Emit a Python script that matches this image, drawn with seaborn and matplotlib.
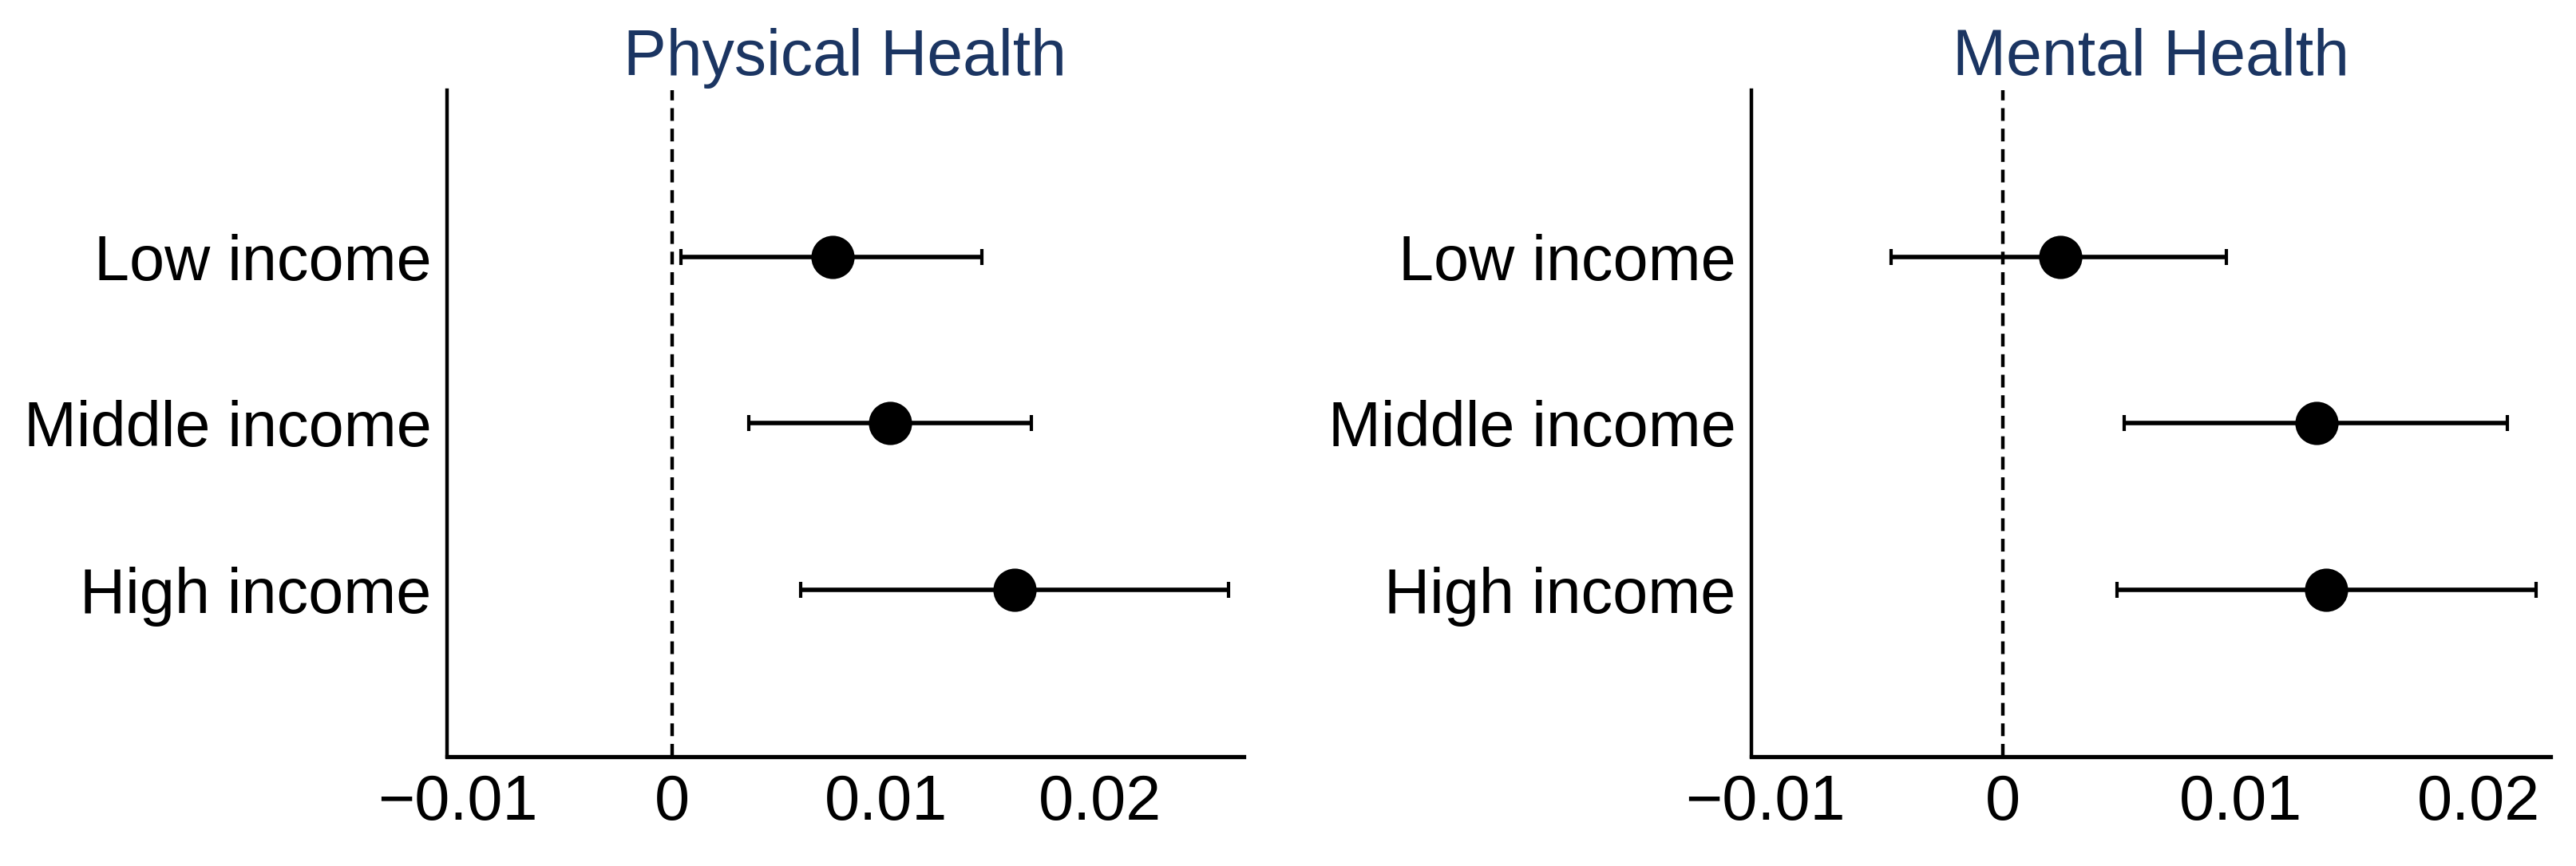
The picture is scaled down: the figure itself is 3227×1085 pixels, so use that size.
import numpy as np
import pandas as pd
import matplotlib
matplotlib.use("Agg")
import matplotlib.pyplot as plt
import seaborn as sns

# =========================
# Data
# =========================
groups = ["Low income", "Middle income", "High income"]

phys_est = [0.0075, 0.0102, 0.0160]
phys_lo = [0.0004, 0.0036, 0.0060]
phys_hi = [0.0145, 0.0168, 0.0260]

ment_est = [0.0024, 0.0132, 0.0136]
ment_lo = [-0.0047, 0.0051, 0.0048]
ment_hi = [0.0094, 0.0212, 0.0224]

panel_titles = ["Physical Health", "Mental Health"]
xtick_values = [-0.01, 0, 0.01, 0.02]
xtick_labels = ["\u22120.01", "0", "0.01", "0.02"]

# =========================
# Style
# =========================
sns.set_style("white")
plt.rcParams["font.family"] = ["Liberation Sans", "DejaVu Sans"]
plt.rcParams["font.size"] = 57

title_color = "#1b3562"

fig = plt.figure(figsize=(32.27, 10.85), dpi=100)
fig.patch.set_facecolor("white")

# axes rectangles (figure fractions)
rects = [
    [0.1735, 0.1263, 0.3093, 0.7696],
    [0.6799, 0.1263, 0.3102, 0.7696],
]
xlims = [(-0.01052, 0.02672), (-0.01057, 0.02302)]

panels = [
    (phys_est, phys_lo, phys_hi),
    (ment_est, ment_lo, ment_hi),
]

for i, (est, lo, hi) in enumerate(panels):
    ax = fig.add_axes(rects[i])
    df = pd.DataFrame({"group": groups, "est": est, "lo": lo, "hi": hi})

    # reference line at zero
    lw = 3.2
    ax.axvline(0, color="black", lw=lw, linestyle=(0, (11.5 / lw, 7.0 / lw)), zorder=1)

    # confidence intervals
    ypos = np.arange(len(df))
    xerr = np.vstack([df["est"] - df["lo"], df["hi"] - df["est"]])
    ax.errorbar(df["est"], ypos, xerr=xerr, fmt="none", ecolor="black",
                elinewidth=4.0, capsize=7, capthick=3.0, zorder=2)

    # point estimates
    sns.pointplot(data=df, x="est", y="group", order=groups, orient="h",
                  linestyle="none", errorbar=None, color="black",
                  markers="o", markersize=37, ax=ax, zorder=3)

    ax.set_xlim(*xlims[i])
    ax.set_ylim(3, -1)
    ax.set_xticks(xtick_values)
    ax.set_xticklabels(xtick_labels)
    ax.set_yticks(ypos)
    ax.set_yticklabels(groups)
    ax.set_xlabel("")
    ax.set_ylabel("")

    for s in ["top", "right"]:
        ax.spines[s].set_visible(False)
    for s in ["left", "bottom"]:
        ax.spines[s].set_color("black")
    ax.spines["left"].set_linewidth(3.2)
    ax.spines["bottom"].set_linewidth(3.8)

    ax.tick_params(axis="x", length=9, width=1.8, color="#555555", pad=6,
                   labelsize=57, labelcolor="black")
    ax.tick_params(axis="y", length=6, width=1.8, color="#888888", pad=8,
                   labelsize=57, labelcolor="black")

    ax.set_title(panel_titles[i], color=title_color, fontsize=58, pad=14)

fig.savefig("out.png", dpi=100, facecolor="white")
